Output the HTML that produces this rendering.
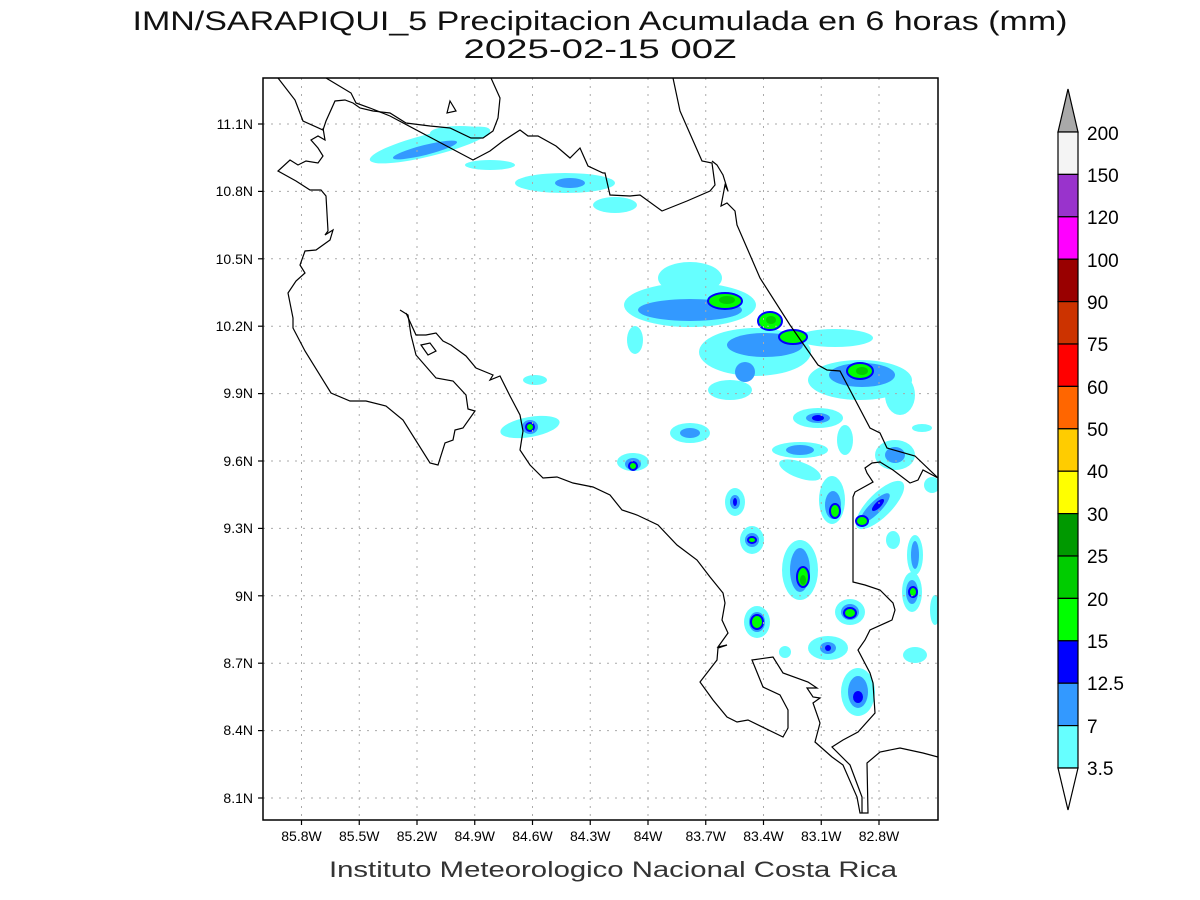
<!DOCTYPE html>
<html><head><meta charset="utf-8"><style>
html,body{margin:0;padding:0;background:#fff;}
svg{display:block;font-family:"Liberation Sans",sans-serif;}
</style></head><body>
<svg width="1200" height="900" viewBox="0 0 1200 900" xmlns="http://www.w3.org/2000/svg">
<rect width="1200" height="900" fill="#fff"/>
<text x="600" y="30" font-size="27" text-anchor="middle" textLength="935" lengthAdjust="spacingAndGlyphs" fill="#111">IMN/SARAPIQUI_5 Precipitacion Acumulada en 6 horas (mm)</text>
<text x="600" y="58" font-size="27" text-anchor="middle" textLength="273" lengthAdjust="spacingAndGlyphs" fill="#111">2025-02-15 00Z</text>
<clipPath id="c"><rect x="263" y="78" width="675" height="742"/></clipPath>
<g clip-path="url(#c)">
<g fill="#66ffff">
<ellipse cx="430" cy="145" rx="62" ry="11" transform="rotate(-14 430 145)"/>
<ellipse cx="460" cy="133" rx="30" ry="7"/>
<ellipse cx="490" cy="165" rx="25" ry="5"/>
<ellipse cx="565" cy="183" rx="50" ry="10"/>
<ellipse cx="615" cy="205" rx="22" ry="8"/>
<ellipse cx="690" cy="305" rx="66" ry="22"/>
<ellipse cx="690" cy="278" rx="32" ry="16"/>
<ellipse cx="755" cy="352" rx="56" ry="24"/>
<ellipse cx="730" cy="390" rx="22" ry="10"/>
<ellipse cx="635" cy="340" rx="8" ry="14"/>
<ellipse cx="835" cy="338" rx="38" ry="9"/>
<ellipse cx="860" cy="380" rx="52" ry="20"/>
<ellipse cx="900" cy="395" rx="15" ry="20"/>
<ellipse cx="818" cy="418" rx="25" ry="10"/>
<ellipse cx="690" cy="433" rx="20" ry="10"/>
<ellipse cx="633" cy="462" rx="16" ry="9"/>
<ellipse cx="530" cy="427" rx="30" ry="10" transform="rotate(-10 530 427)"/>
<ellipse cx="535" cy="380" rx="12" ry="5"/>
<ellipse cx="735" cy="502" rx="10" ry="14"/>
<ellipse cx="752" cy="540" rx="12" ry="14"/>
<ellipse cx="800" cy="570" rx="18" ry="30"/>
<ellipse cx="757" cy="622" rx="13" ry="16"/>
<ellipse cx="850" cy="612" rx="15" ry="13"/>
<ellipse cx="828" cy="648" rx="20" ry="12"/>
<ellipse cx="858" cy="692" rx="17" ry="24"/>
<ellipse cx="785" cy="652" rx="6" ry="6"/>
<ellipse cx="800" cy="470" rx="22" ry="8" transform="rotate(20 800 470)"/>
<ellipse cx="832" cy="500" rx="13" ry="24"/>
<ellipse cx="880" cy="505" rx="32" ry="12" transform="rotate(-45 880 505)"/>
<ellipse cx="800" cy="450" rx="28" ry="8"/>
<ellipse cx="915" cy="555" rx="8" ry="20"/>
<ellipse cx="912" cy="592" rx="10" ry="20"/>
<ellipse cx="893" cy="540" rx="7" ry="9"/>
<ellipse cx="915" cy="655" rx="12" ry="8"/>
<ellipse cx="895" cy="455" rx="20" ry="15"/>
<ellipse cx="922" cy="428" rx="10" ry="4"/>
<ellipse cx="845" cy="440" rx="8" ry="15"/>
<ellipse cx="932" cy="485" rx="8" ry="8"/>
<ellipse cx="935" cy="610" rx="5" ry="15"/>
</g>
<g fill="#3399ff">
<ellipse cx="425" cy="150" rx="33" ry="5" transform="rotate(-14 425 150)"/>
<ellipse cx="570" cy="183" rx="15" ry="5"/>
<ellipse cx="690" cy="310" rx="52" ry="11"/>
<ellipse cx="765" cy="345" rx="38" ry="12"/>
<ellipse cx="745" cy="372" rx="10" ry="10"/>
<ellipse cx="862" cy="375" rx="33" ry="12"/>
<ellipse cx="818" cy="418" rx="12" ry="5"/>
<ellipse cx="690" cy="433" rx="10" ry="5"/>
<ellipse cx="633" cy="464" rx="8" ry="6"/>
<ellipse cx="530" cy="427" rx="8" ry="7"/>
<ellipse cx="735" cy="502" rx="5" ry="7"/>
<ellipse cx="752" cy="540" rx="7" ry="7"/>
<ellipse cx="800" cy="570" rx="10" ry="22"/>
<ellipse cx="757" cy="622" rx="8" ry="10"/>
<ellipse cx="850" cy="612" rx="9" ry="8"/>
<ellipse cx="828" cy="648" rx="8" ry="6"/>
<ellipse cx="858" cy="692" rx="10" ry="16"/>
<ellipse cx="833" cy="505" rx="8" ry="14"/>
<ellipse cx="875" cy="508" rx="20" ry="6" transform="rotate(-45 875 508)"/>
<ellipse cx="800" cy="450" rx="14" ry="5"/>
<ellipse cx="915" cy="555" rx="4" ry="14"/>
<ellipse cx="912" cy="592" rx="6" ry="12"/>
<ellipse cx="895" cy="455" rx="10" ry="8"/>
</g>
<g fill="#00ff00" stroke="#0000ff" stroke-width="2">
<ellipse cx="725" cy="301" rx="17" ry="8"/>
<ellipse cx="770" cy="321" rx="12" ry="9"/>
<ellipse cx="793" cy="337" rx="14" ry="7"/>
<ellipse cx="860" cy="371" rx="13" ry="8"/>
<ellipse cx="633" cy="466" rx="4" ry="4"/>
<ellipse cx="530" cy="427" rx="4" ry="4"/>
<ellipse cx="752" cy="540" rx="4" ry="3"/>
<ellipse cx="803" cy="577" rx="6" ry="10"/>
<ellipse cx="757" cy="622" rx="6" ry="7"/>
<ellipse cx="850" cy="613" rx="6" ry="5"/>
<ellipse cx="835" cy="511" rx="5" ry="7"/>
<ellipse cx="862" cy="521" rx="6" ry="5"/>
<ellipse cx="913" cy="592" rx="4" ry="5"/>
</g>
<g fill="#00cc00">
<ellipse cx="727" cy="300" rx="8" ry="4"/>
<ellipse cx="771" cy="320" rx="5" ry="4"/>
<ellipse cx="862" cy="371" rx="6" ry="4"/>
<ellipse cx="803" cy="580" rx="3" ry="5"/>
</g>
<g fill="#0000ff">
<ellipse cx="818" cy="418" rx="6" ry="3"/>
<ellipse cx="858" cy="697" rx="5" ry="6"/>
<ellipse cx="828" cy="648" rx="3" ry="3"/>
<ellipse cx="878" cy="505" rx="8" ry="3" transform="rotate(-45 878 505)"/>
<ellipse cx="735" cy="502" rx="2" ry="4"/>
</g>
</g>
<g stroke="#aaa" stroke-width="1" stroke-dasharray="2,6">
<line x1="301.5" y1="78" x2="301.5" y2="820"/><line x1="359.25" y1="78" x2="359.25" y2="820"/><line x1="417" y1="78" x2="417" y2="820"/><line x1="474.75" y1="78" x2="474.75" y2="820"/><line x1="532.5" y1="78" x2="532.5" y2="820"/><line x1="590.25" y1="78" x2="590.25" y2="820"/><line x1="648" y1="78" x2="648" y2="820"/><line x1="705.75" y1="78" x2="705.75" y2="820"/><line x1="763.5" y1="78" x2="763.5" y2="820"/><line x1="821.25" y1="78" x2="821.25" y2="820"/><line x1="879" y1="78" x2="879" y2="820"/>
<line x1="263" y1="124" x2="938" y2="124"/><line x1="263" y1="191.4" x2="938" y2="191.4"/><line x1="263" y1="258.8" x2="938" y2="258.8"/><line x1="263" y1="326.2" x2="938" y2="326.2"/><line x1="263" y1="393.6" x2="938" y2="393.6"/><line x1="263" y1="461" x2="938" y2="461"/><line x1="263" y1="528.4" x2="938" y2="528.4"/><line x1="263" y1="595.8" x2="938" y2="595.8"/><line x1="263" y1="663.2" x2="938" y2="663.2"/><line x1="263" y1="730.6" x2="938" y2="730.6"/><line x1="263" y1="798" x2="938" y2="798"/>
</g>
<g fill="none" stroke="#000" stroke-width="1.2" clip-path="url(#c)">
<polyline points="278,78 295,100 303,121 323,130 326,121 335,101 345,100 353,103 360,108 373,111 390,113 406,123 430,126 450,128 471,138 483,138 493,131 498,118 500,98 491,78"/>
<polyline points="326,78 351,93 356,103 370,108 390,116 473,160 490,151 503,141 520,130 528,136 538,136 556,146 570,158 580,148 588,166 603,173 605,173 610,195 630,196 640,195 662,211 687,201 710,191 715,185 712,163 702,161 680,111 673,78"/>
<polyline points="712,161 717,165 723,175 728,191 725,185 721,206 727,203 735,211 737,225 747,248 760,278 790,325 818,365 827,370 840,371 870,428 880,433 887,448 915,456 938,478"/>
<polyline points="323,128 325,140 318,136 311,140 318,148 323,156 318,163 306,161 298,165 290,160 278,171 296,181 310,190 321,190 326,196 328,231 325,235 333,230 330,240 316,250 305,251 300,265 305,273 296,281 288,293 293,318 293,328 305,351 331,393 350,401 366,401 386,406 403,420 430,463 438,465 445,443 453,440 455,430 463,428 475,411 468,409 466,395 453,381 436,378 416,355 411,335 408,315 400,310"/>
<polyline points="406,313 416,335 426,335 436,333 443,341 451,345 466,356 476,368 493,375 490,380 500,376 510,396 520,415 523,431 520,450 530,465 543,478 557,477 573,483 593,487 610,495 622,510 637,515 658,525 677,545 697,560 710,577 723,593 725,603 722,620 728,633 718,647 727,645 718,648 717,660 700,682 713,700 727,717 737,722 748,720 783,737 788,728 788,710 780,695 763,687 752,660 773,657 783,673 808,682 817,688 807,688 813,697 820,698 813,703 820,723 815,742 832,757 843,765 857,797 860,813 868,813 867,763 880,752 900,748 923,753 938,757"/>
<polyline points="938,478 923,470 918,480 910,483 893,470 880,462 872,463 865,468 867,473 873,482 855,492 853,497 853,582 865,585 880,590 893,603 895,610 892,620 870,630 865,640 858,650 870,673 873,683 875,713 858,732 843,740 832,747 850,765 862,797 862,813"/>
<polygon points="421,345 430,343 436,351 428,355"/>
<polygon points="447,113 450,101 456,111"/>
</g>
<rect x="263" y="78" width="675" height="742" fill="none" stroke="#000" stroke-width="1.5"/>
<g stroke="#000" stroke-width="1.2">
<line x1="301.5" y1="820" x2="301.5" y2="825"/><line x1="359.25" y1="820" x2="359.25" y2="825"/><line x1="417" y1="820" x2="417" y2="825"/><line x1="474.75" y1="820" x2="474.75" y2="825"/><line x1="532.5" y1="820" x2="532.5" y2="825"/><line x1="590.25" y1="820" x2="590.25" y2="825"/><line x1="648" y1="820" x2="648" y2="825"/><line x1="705.75" y1="820" x2="705.75" y2="825"/><line x1="763.5" y1="820" x2="763.5" y2="825"/><line x1="821.25" y1="820" x2="821.25" y2="825"/><line x1="879" y1="820" x2="879" y2="825"/>
<line x1="258" y1="124" x2="263" y2="124"/><line x1="258" y1="191.4" x2="263" y2="191.4"/><line x1="258" y1="258.8" x2="263" y2="258.8"/><line x1="258" y1="326.2" x2="263" y2="326.2"/><line x1="258" y1="393.6" x2="263" y2="393.6"/><line x1="258" y1="461" x2="263" y2="461"/><line x1="258" y1="528.4" x2="263" y2="528.4"/><line x1="258" y1="595.8" x2="263" y2="595.8"/><line x1="258" y1="663.2" x2="263" y2="663.2"/><line x1="258" y1="730.6" x2="263" y2="730.6"/><line x1="258" y1="798" x2="263" y2="798"/>
</g>
<g font-size="14" text-anchor="middle">
<text x="301.5" y="841">85.8W</text><text x="359.25" y="841">85.5W</text><text x="417" y="841">85.2W</text><text x="474.75" y="841">84.9W</text><text x="532.5" y="841">84.6W</text><text x="590.25" y="841">84.3W</text><text x="648" y="841">84W</text><text x="705.75" y="841">83.7W</text><text x="763.5" y="841">83.4W</text><text x="821.25" y="841">83.1W</text><text x="879" y="841">82.8W</text>
</g>
<g font-size="14" text-anchor="end">
<text x="253" y="129">11.1N</text><text x="253" y="196">10.8N</text><text x="253" y="264">10.5N</text><text x="253" y="331">10.2N</text><text x="253" y="398">9.9N</text><text x="253" y="466">9.6N</text><text x="253" y="533">9.3N</text><text x="253" y="601">9N</text><text x="253" y="668">8.7N</text><text x="253" y="735">8.4N</text><text x="253" y="803">8.1N</text>
</g>
<text x="613" y="877" font-size="22" text-anchor="middle" textLength="568" lengthAdjust="spacingAndGlyphs" fill="#333">Instituto Meteorologico Nacional Costa Rica</text>
<g stroke="#000" stroke-width="1.2">
<polygon points="1058,132 1068,89 1078,132" fill="#a9a9a9"/>
<rect x="1058" y="132" width="20" height="42.4" fill="#f4f4f4"/>
<rect x="1058" y="174.4" width="20" height="42.4" fill="#9933cc"/>
<rect x="1058" y="216.8" width="20" height="42.4" fill="#ff00ff"/>
<rect x="1058" y="259.2" width="20" height="42.4" fill="#990000"/>
<rect x="1058" y="301.6" width="20" height="42.4" fill="#cc3300"/>
<rect x="1058" y="344" width="20" height="42.4" fill="#ff0000"/>
<rect x="1058" y="386.4" width="20" height="42.4" fill="#ff6600"/>
<rect x="1058" y="428.8" width="20" height="42.4" fill="#ffcc00"/>
<rect x="1058" y="471.2" width="20" height="42.4" fill="#ffff00"/>
<rect x="1058" y="513.6" width="20" height="42.4" fill="#009900"/>
<rect x="1058" y="556" width="20" height="42.4" fill="#00cc00"/>
<rect x="1058" y="598.4" width="20" height="42.4" fill="#00ff00"/>
<rect x="1058" y="640.8" width="20" height="42.4" fill="#0000ff"/>
<rect x="1058" y="683.2" width="20" height="42.4" fill="#3399ff"/>
<rect x="1058" y="725.6" width="20" height="42.4" fill="#66ffff"/>
<polygon points="1058,768 1068,810 1078,768" fill="#fff"/>
</g>
<g font-size="19">
<text x="1087" y="140">200</text><text x="1087" y="182">150</text><text x="1087" y="224">120</text><text x="1087" y="267">100</text><text x="1087" y="309">90</text><text x="1087" y="351">75</text><text x="1087" y="394">60</text><text x="1087" y="436">50</text><text x="1087" y="478">40</text><text x="1087" y="521">30</text><text x="1087" y="563">25</text><text x="1087" y="606">20</text><text x="1087" y="648">15</text><text x="1087" y="690">12.5</text><text x="1087" y="733">7</text><text x="1087" y="775">3.5</text>
</g>
</svg>
</body></html>
